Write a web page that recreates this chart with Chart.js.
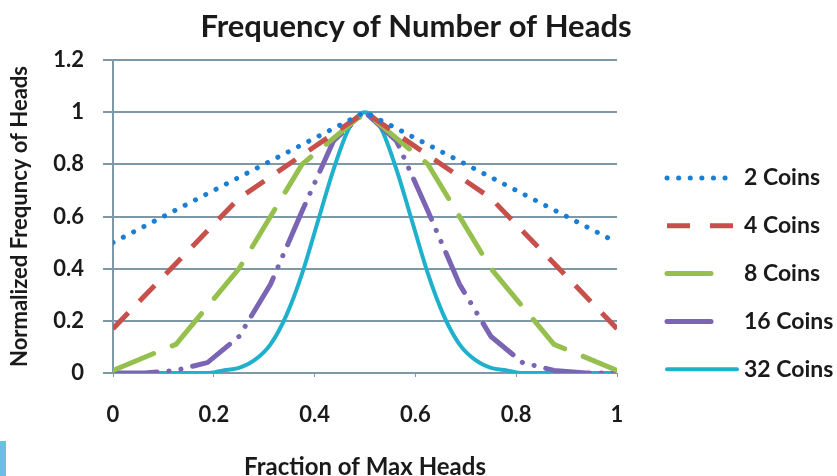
<!DOCTYPE html>
<html>
<head>
<meta charset="utf-8">
<script src="https://cdn.jsdelivr.net/npm/chart.js@4.4.1/dist/chart.umd.min.js"></script>
<style>
  html, body { margin: 0; padding: 0; background: #fff; }
  #wrap { position: relative; width: 837px; height: 476px; }
  #mark { position: absolute; left: 0; top: 441px; width: 6px; height: 35px; background: #6cc0df; }
</style>
</head>
<body>
<div id="wrap">
  <canvas id="chart" width="837" height="476"></canvas>
  <div id="mark"></div>
</div>
<script>
// values (x = fraction of max heads, y = normalized frequency)
const coins2X = [0, 0.5, 1];
const coins2Y = [0.5, 1, 0.5];

const coins4X = [0, 0.25, 0.5, 0.75, 1];
const coins4Y = [0.17, 0.67, 1, 0.67, 0.17];

const coins8X = [0, 0.125, 0.25, 0.375, 0.5, 0.625, 0.75, 0.875, 1];
const coins8Y = [0.01, 0.11, 0.4, 0.8, 1, 0.8, 0.4, 0.11, 0.01];

const coins16X = [0, 0.0625, 0.125, 0.1875, 0.25, 0.3125, 0.375, 0.4375, 0.5,
                  0.5625, 0.625, 0.6875, 0.75, 0.8125, 0.875, 0.9375, 1];
const coins16Y = [0, 0, 0.01, 0.04, 0.14, 0.34, 0.62, 0.89, 1,
                  0.89, 0.62, 0.34, 0.14, 0.04, 0.01, 0, 0];

const coins32X = [0, 0.03125, 0.0625, 0.09375, 0.125, 0.15625, 0.1875, 0.21875, 0.25,
                  0.28125, 0.3125, 0.34375, 0.375, 0.40625, 0.4375, 0.46875, 0.5,
                  0.53125, 0.5625, 0.59375, 0.625, 0.65625, 0.6875, 0.71875, 0.75,
                  0.78125, 0.8125, 0.84375, 0.875, 0.90625, 0.9375, 0.96875, 1];
const coins32Y = [0, 0, 0, 0, 0, 0, 0, 0.01, 0.02,
                  0.05, 0.11, 0.22, 0.38, 0.58, 0.78, 0.94, 1,
                  0.94, 0.78, 0.58, 0.38, 0.22, 0.11, 0.05, 0.02,
                  0.01, 0, 0, 0, 0, 0, 0, 0];

const seriesLabels = ['2 Coins', '4 Coins', '8 Coins', '16 Coins', '32 Coins'];
const yTicks = [0, 0.2, 0.4, 0.6, 0.8, 1, 1.2];
const xTicks = [0, 0.2, 0.4, 0.6, 0.8, 1];

const FONT = 'Lato, "Open Sans", sans-serif';
const TEXT = '#1a1a1a';
const GRID = '#7f98a8';

const pts = (xs, ys) => xs.map((x, i) => ({ x: x, y: ys[i] }));

const styles = [
    { color: '#1a7fd4', dash: [0.1, 11.5], width: 5, cap: 'round', sample: 66 },
    { color: '#c8504b', dash: [22, 16], width: 5, cap: 'butt', sample: 66 },
    { color: '#95c04e', dash: [44, 20], width: 5, cap: 'round', sample: 46 },
    { color: '#7a64b4', dash: [44, 12, 0.1, 12, 0.1, 12], width: 5, cap: 'round', sample: 46 },
    { color: '#1fb0cc', dash: [], width: 4, cap: 'round', sample: 70 }
];

const allData = [
    pts(coins2X, coins2Y),
    pts(coins4X, coins4Y),
    pts(coins8X, coins8Y),
    pts(coins16X, coins16Y),
    pts(coins32X, coins32Y)
];

const datasets = allData.map((d, i) => ({
    label: seriesLabels[i],
    data: d,
    borderColor: styles[i].color,
    backgroundColor: styles[i].color,
    borderWidth: styles[i].width,
    borderDash: styles[i].dash,
    borderCapStyle: styles[i].cap,
    pointRadius: 0,
    fill: false,
    tension: i === 4 ? 0.35 : 0,
    cubicInterpolationMode: i === 4 ? 'monotone' : 'default'
}));

// title and legend drawn by hand so they can sit where Excel put them
const decorations = {
    id: 'decorations',
    afterDraw(chart) {
        const ctx = chart.ctx;
        ctx.save();
        ctx.fillStyle = TEXT;
        ctx.font = 'bold 31px ' + FONT;
        ctx.textAlign = 'center';
        ctx.textBaseline = 'middle';
        ctx.fillText('Frequency of Number of Heads', 416, 27);

        const x0 = chart.chartArea.right + 50;
        const yStart = chart.chartArea.top + 118;
        chart.data.datasets.forEach((ds, i) => {
            const y = yStart + i * 47.8;
            const st = styles[i];
            ctx.beginPath();
            ctx.strokeStyle = st.color;
            ctx.lineWidth = st.width;
            ctx.lineCap = st.cap;
            ctx.setLineDash(i === 1 ? [23, 20] : st.dash);
            ctx.moveTo(x0, y);
            ctx.lineTo(x0 + st.sample, y);
            ctx.stroke();
            ctx.setLineDash([]);
            ctx.fillStyle = TEXT;
            ctx.font = 'bold 23px ' + FONT;
            ctx.textAlign = 'left';
            ctx.fillText(ds.label, x0 + 77, y);
        });
        ctx.restore();
    }
};

new Chart(document.getElementById('chart').getContext('2d'), {
    type: 'line',
    data: { datasets: datasets },
    options: {
        responsive: false,
        animation: false,
        layout: { padding: { top: 60, right: 220, left: 0, bottom: 0 } },
        plugins: {
            legend: { display: false },
            title: { display: false },
            tooltip: { enabled: false }
        },
        scales: {
            x: {
                type: 'linear',
                min: 0,
                max: 1,
                afterBuildTicks: s => { s.ticks = xTicks.map(v => ({ value: v })); },
                afterFit: s => { s.height = 103; },
                grid: {
                    drawOnChartArea: false,
                    drawTicks: true,
                    tickLength: 4,
                    color: GRID,
                    lineWidth: 1
                },
                border: { display: false },
                ticks: {
                    padding: 25,
                    color: TEXT,
                    font: { family: FONT, size: 22, weight: 'bold' },
                    maxRotation: 0,
                    callback: v => String(v)
                },
                title: {
                    display: true,
                    text: 'Fraction of Max Heads',
                    color: TEXT,
                    font: { family: FONT, size: 24, weight: 'bold', lineHeight: 1 },
                    padding: { top: 0, bottom: -3 }
                }
            },
            y: {
                min: 0,
                max: 1.2,
                afterBuildTicks: s => { s.ticks = yTicks.map(v => ({ value: v })); },
                afterFit: s => { s.width = 113; },
                grid: {
                    color: GRID,
                    lineWidth: 2,
                    tickLength: 10
                },
                border: { display: true, color: GRID, width: 2 },
                ticks: {
                    padding: 19,
                    color: TEXT,
                    font: { family: FONT, size: 22, weight: 'bold' },
                    callback: v => String(Math.round(v * 10) / 10)
                },
                title: {
                    display: true,
                    text: 'Normalized Frequncy of Heads',
                    color: TEXT,
                    font: { family: FONT, size: 22, weight: 'bold', lineHeight: 1.2 },
                    padding: { top: 7, bottom: 0 }
                }
            }
        }
    },
    plugins: [decorations]
});
</script>
</body>
</html>
